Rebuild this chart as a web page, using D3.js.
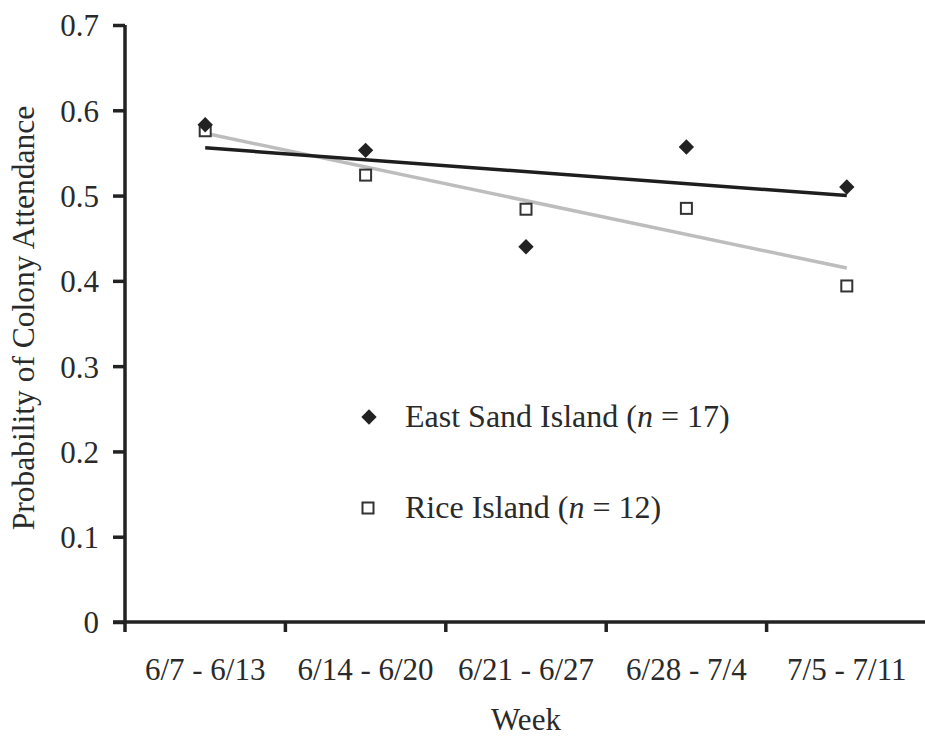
<!DOCTYPE html>
<html>
<head>
<meta charset="utf-8">
<script src="https://cdn.jsdelivr.net/npm/d3@7"></script>
<style>
body { margin: 0; background: #fff; }
text { font-family: "Liberation Serif", "Times New Roman", serif; fill: #2a2a2a; }
</style>
</head>
<body>
<div id="chart"></div>
<script>
// values
var weeks = ["6/7 - 6/13", "6/14 - 6/20", "6/21 - 6/27", "6/28 - 7/4", "7/5 - 7/11"];
var eastSand = [0.583, 0.553, 0.44, 0.557, 0.51];
var riceIsland = [0.576, 0.524, 0.484, 0.485, 0.394];
var eastTrend = [0.556, 0.500];   // first week, last week
var riceTrend = [0.573, 0.415];
var yTicks = [0, 0.1, 0.2, 0.3, 0.4, 0.5, 0.6, 0.7];

var width = 925, height = 738;
var plotLeft = 125, plotRight = 927, plotTop = 25, plotBottom = 622;

var svg = d3.select("#chart")
    .append("svg")
    .attr("width", width)
    .attr("height", height);

var x = d3.scaleBand()
    .domain(weeks)
    .range([plotLeft, plotRight]);

var y = d3.scaleLinear()
    .domain([0, 0.7])
    .range([plotBottom, plotTop]);

// Y axis
var yAxis = svg.append("g")
    .attr("transform", "translate(" + plotLeft + ",0)")
    .call(d3.axisLeft(y).tickValues(yTicks).tickSize(12).tickPadding(14)
        .tickFormat(function(d) { return d === 0 ? "0" : d3.format(".1f")(d); }));
yAxis.select(".domain").attr("stroke", "#222").attr("stroke-width", 3.5)
    .attr("d", "M0," + y(0.7) + "V" + (plotBottom + 10));
yAxis.selectAll(".tick line").attr("stroke", "#222").attr("stroke-width", 3.5);
yAxis.selectAll(".tick text").attr("font-size", 31).attr("dy", "0.35em")
    .style("font-family", "Liberation Serif").attr("fill", "#2a2a2a");

// X axis
var xAxis = svg.append("g")
    .attr("transform", "translate(0," + plotBottom + ")")
    .call(d3.axisBottom(x).tickSize(0).tickPadding(36));
xAxis.select(".domain").attr("stroke", "#222").attr("stroke-width", 3.5)
    .attr("d", "M" + (plotLeft - 12) + ",0H" + plotRight);
xAxis.selectAll(".tick text").attr("font-size", 31)
    .style("font-family", "Liberation Serif").attr("fill", "#2a2a2a");
// tick marks between weeks
xAxis.selectAll(".sep")
    .data(weeks.slice(1))
    .enter()
    .append("line")
    .attr("x1", function(d) { return x(d); })
    .attr("x2", function(d) { return x(d); })
    .attr("y1", 0)
    .attr("y2", 10)
    .attr("stroke", "#222")
    .attr("stroke-width", 3.5);

// axis titles
svg.append("text")
    .attr("x", (plotLeft + plotRight) / 2)
    .attr("y", 730)
    .attr("text-anchor", "middle")
    .attr("font-size", 31)
    .text("Week");

svg.append("text")
    .attr("transform", "translate(34,318) rotate(-90)")
    .attr("text-anchor", "middle")
    .attr("font-size", 31.5)
    .text("Probability of Colony Attendance");

var cx = function(i) { return x(weeks[i]) + x.bandwidth() / 2; };

// trend lines
svg.append("line")
    .attr("x1", cx(0)).attr("x2", cx(weeks.length - 1))
    .attr("y1", y(riceTrend[0])).attr("y2", y(riceTrend[1]))
    .attr("stroke", "#bdbdbd")
    .attr("stroke-width", 3.5);

svg.append("line")
    .attr("x1", cx(0)).attr("x2", cx(weeks.length - 1))
    .attr("y1", y(eastTrend[0])).attr("y2", y(eastTrend[1]))
    .attr("stroke", "#1e1e1e")
    .attr("stroke-width", 3.5);

var diamond = d3.symbol().type(d3.symbolDiamond2).size(150);

// Rice Island squares
svg.selectAll(".rice")
    .data(riceIsland)
    .enter()
    .append("rect")
    .attr("class", "rice")
    .attr("x", function(d, i) { return cx(i) - 5.5; })
    .attr("y", function(d) { return y(d) - 5.5; })
    .attr("width", 11)
    .attr("height", 11)
    .attr("fill", "#fff")
    .attr("stroke", "#333")
    .attr("stroke-width", 2);

// East Sand Island diamonds
svg.selectAll(".east")
    .data(eastSand)
    .enter()
    .append("path")
    .attr("class", "east")
    .attr("d", diamond)
    .attr("transform", function(d, i) { return "translate(" + cx(i) + "," + y(d) + ")"; })
    .attr("fill", "#222");

// legend
var legend = svg.append("g");
legend.append("path")
    .attr("d", diamond)
    .attr("transform", "translate(369,417)")
    .attr("fill", "#222");
legend.append("rect")
    .attr("x", 362.5).attr("y", 502.5)
    .attr("width", 11).attr("height", 11)
    .attr("fill", "#fff").attr("stroke", "#333").attr("stroke-width", 2);

var t1 = legend.append("text").attr("x", 405).attr("y", 427).attr("font-size", 32);
t1.append("tspan").text("East Sand Island (");
t1.append("tspan").attr("font-style", "italic").text("n");
t1.append("tspan").text(" = 17)");

var t2 = legend.append("text").attr("x", 405).attr("y", 518).attr("font-size", 32);
t2.append("tspan").text("Rice Island (");
t2.append("tspan").attr("font-style", "italic").text("n");
t2.append("tspan").text(" = 12)");
</script>
</body>
</html>
